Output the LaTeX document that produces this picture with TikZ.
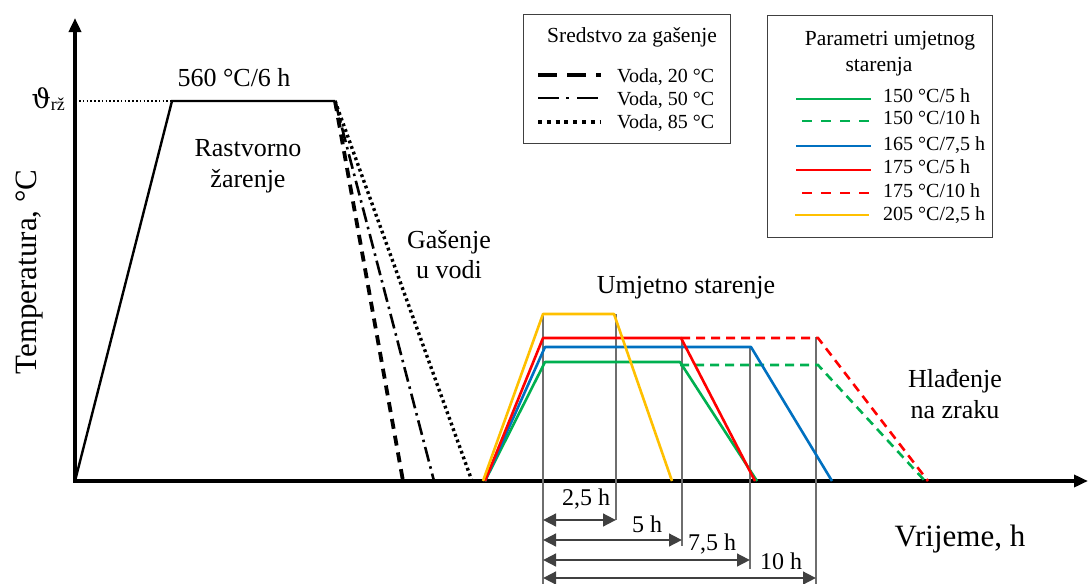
\documentclass[tikz,border=0pt]{standalone}
\usepackage{fontspec}
\setmainfont{Liberation Serif}
\newfontfamily\thetafont{DejaVu Serif}
\usetikzlibrary{arrows.meta}
\definecolor{cgreen}{HTML}{00B050}
\definecolor{cblue}{HTML}{0070C0}
\definecolor{cred}{HTML}{FF0000}
\definecolor{cyellow}{HTML}{FFC000}
\definecolor{dimgrey}{HTML}{404040}
\definecolor{vgrey}{HTML}{6E6E6E}
\tikzset{
  lbl/.style={font=\fontsize{26}{26}\selectfont, inner sep=0pt, anchor=base},
  axlbl/.style={font=\fontsize{31}{31}\selectfont, inner sep=0pt, anchor=base},
  leg/.style={font=\fontsize{20}{20}\selectfont, inner sep=0pt, anchor=base west},
  legtitle/.style={font=\fontsize{21.5}{21.5}\selectfont, inner sep=0pt, anchor=base},
  dimlbl/.style={font=\fontsize{24}{24}\selectfont, inner sep=0pt, anchor=base},
  axisline/.style={line width=3.5pt, -{Triangle[length=14pt,width=12pt]}},
  solcurve/.style={line width=2.4pt, line join=miter},
  qdash/.style={line width=3.8pt, dash pattern=on 10pt off 7pt},
  qdashdot/.style={line width=2.6pt, dash pattern=on 15pt off 5pt on 2.5pt off 5pt},
  qdot/.style={line width=3.4pt, dash pattern=on 2.8pt off 3.2pt},
  age/.style={line width=2.6pt, line join=round},
  agedash/.style={line width=2.6pt, dash pattern=on 9pt off 6pt},
  vguide/.style={line width=1.1pt, vgrey},
  dimarrow/.style={line width=2.8pt, dimgrey, {Triangle[length=13pt,width=12.5pt]}-{Triangle[length=13pt,width=12.5pt]}},
  legbox/.style={draw=black!75, line width=1.2pt},
}
\begin{document}
\begin{tikzpicture}[x=1pt,y=-1pt]
\useasboundingbox (0,0) rectangle (1088,584);

% axes
\coordinate (O) at (75,481);
\coordinate (Ytop) at (75,18);
\coordinate (Xend) at (1088,481);
\draw[axisline] (O) -- (Ytop);
\draw[axisline] ([xshift=-1.75pt]O) -- (Xend);

\node[axlbl, rotate=90] (ylab) at (36,272) {Temperatura, °C};
\node[axlbl] (xlab) at (960,546) {Vrijeme, h};

% theta label and dotted reference
\node[inner sep=0pt, anchor=base east] (theta) at (65,108) {{\thetafont\fontsize{27}{27}\selectfont ϑ}\raisebox{-0.28em}{\fontsize{18}{18}\selectfont rž}};
\coordinate (Dstart) at (79,101);
\coordinate (S1) at (172,101);
\coordinate (S2) at (335,101);
\draw[line width=1.3pt, dash pattern=on 1.6pt off 2.2pt] (Dstart) -- (S1);

% solution annealing curve
\draw[solcurve] (O) -- (S1) -- (S2);
\node[lbl] (t560) at (234,86) {560 °C/6 h};
\node[lbl] (rast1) at (248,156) {Rastvorno};
\node[lbl] (rast2) at (248,187) {žarenje};

% quenching
\coordinate (Q20) at (403,481);
\coordinate (Q50) at (434,481);
\coordinate (Q85) at (472,481);
\draw[qdash] (S2) -- (Q20);
\draw[qdashdot] (S2) -- (Q50);
\draw[qdot] (S2) -- (Q85);
\node[lbl] (gas1) at (449,248) {Gašenje};
\node[lbl] (gas2) at (449,278) {u vodi};

% ageing curves
\coordinate (A0) at (485,481);
% yellow 205/2.5
\coordinate (Y1) at (543,314);
\coordinate (Y2) at (614,314);
\coordinate (Y3) at (672,481);
% red 175/5
\coordinate (R1) at (543,338);
\coordinate (R2) at (681,338);
\coordinate (R3) at (755,481);
\coordinate (R4) at (818,338);
\coordinate (R5) at (928,481);
% blue 165/7.5
\coordinate (B1) at (545,347);
\coordinate (B2) at (751,347);
\coordinate (B3) at (832,481);
% green 150/5
\coordinate (G1) at (545,362);
\coordinate (G2) at (680,362);
\coordinate (G3) at (757,481);
\coordinate (G4) at (680,365);
\coordinate (G5) at (818,365);
\coordinate (G6) at (925,481);

% guides
\coordinate (V1t) at (543,314); \coordinate (V1b) at (543,584);
\coordinate (V2t) at (616,314); \coordinate (V2b) at (616,520);
\coordinate (V3t) at (682,338); \coordinate (V3b) at (682,546);
\coordinate (V4t) at (750,347); \coordinate (V4b) at (750,569);
\coordinate (V5t) at (816,337); \coordinate (V5b) at (816,584);
\draw[vguide] (V1t) -- (V1b);
\draw[vguide] (V2t) -- (V2b);
\draw[vguide] (V3t) -- (V3b);
\draw[vguide] (V4t) -- (V4b);
\draw[vguide] (V5t) -- (V5b);

\draw[agedash, cgreen] (G4) -- (G5) -- (G6);
\draw[agedash, cred] (R2) -- (R4) -- (R5);
\draw[age, cgreen] (A0) -- (G1) -- (G2) -- (G3);
\draw[age, cblue] (A0) -- (B1) -- (B2) -- (B3);
\draw[age, cred] (A0) -- (R1) -- (R2) -- (R3);
\draw[age, cyellow] ([xshift=-2pt]A0) -- (Y1) -- (Y2) -- (Y3);

\node[lbl] (umj) at (686,293) {Umjetno starenje};
\node[lbl] (hla1) at (955,387) {Hlađenje};
\node[lbl] (hla2) at (955,418) {na zraku};

% dimension arrows
\coordinate (D1a) at (543,520); \coordinate (D1b) at (616,520);
\coordinate (D2a) at (543,540); \coordinate (D2b) at (682,540);
\coordinate (D3a) at (543,560); \coordinate (D3b) at (750,560);
\coordinate (D4a) at (543,578); \coordinate (D4b) at (816,578);
\draw[dimarrow] (D1a) -- (D1b);
\draw[dimarrow] (D2a) -- (D2b);
\draw[dimarrow] (D3a) -- (D3b);
\draw[dimarrow] (D4a) -- (D4b);
\node[dimlbl] (d1) at (586,505) {2,5 h};
\node[dimlbl] (d2) at (647,532) {5 h};
\node[dimlbl] (d3) at (712,550) {7,5 h};
\node[dimlbl] (d4) at (781,569) {10 h};

% legend 1
\node[legbox, minimum width=207pt, minimum height=129pt, anchor=north west, inner sep=0pt] (leg1) at (523,14) {};
\node[legtitle] (leg1t) at (632,42) {Sredstvo za gašenje};
\coordinate (L1a) at (538,75); \coordinate (L1b) at (601,75);
\coordinate (L2a) at (538,98); \coordinate (L2b) at (601,98);
\coordinate (L3a) at (538,122); \coordinate (L3b) at (601,122);
\draw[line width=4pt, dash pattern=on 19pt off 10pt] (L1a) -- (L1b);
\draw[line width=2.6pt, dash pattern=on 21pt off 7pt on 3pt off 8pt] (L2a) -- (L2b);
\draw[line width=4pt, dash pattern=on 4pt off 4.8pt] (L3a) -- (L3b);
\node[leg] (l1) at (617,82) {Voda, 20 °C};
\node[leg] (l2) at (617,105) {Voda, 50 °C};
\node[leg] (l3) at (617,128) {Voda, 85 °C};

% legend 2
\node[legbox, minimum width=225pt, minimum height=222pt, anchor=north west, inner sep=0pt] (leg2) at (767,15) {};
\node[legtitle] (leg2t1) at (890,45) {Parametri umjetnog};
\node[legtitle] (leg2t2) at (879,71) {starenja};
\coordinate (P1a) at (796,99);  \coordinate (P1b) at (871,99);
\coordinate (P2a) at (802,121); \coordinate (P2b) at (871,121);
\coordinate (P3a) at (796,146); \coordinate (P3b) at (871,146);
\coordinate (P4a) at (796,170); \coordinate (P4b) at (871,170);
\coordinate (P5a) at (802,193); \coordinate (P5b) at (871,193);
\coordinate (P6a) at (795,215); \coordinate (P6b) at (869,215);
\draw[line width=2.6pt, cgreen] (P1a) -- (P1b);
\draw[line width=2.6pt, cgreen, dash pattern=on 10pt off 9pt] (P2a) -- (P2b);
\draw[line width=2.6pt, cblue] (P3a) -- (P3b);
\draw[line width=2.6pt, cred] (P4a) -- (P4b);
\draw[line width=2.6pt, cred, dash pattern=on 10pt off 9pt] (P5a) -- (P5b);
\draw[line width=2.6pt, cyellow] (P6a) -- (P6b);
\node[leg] (p1) at (883,102) {150 °C/5 h};
\node[leg] (p2) at (883,124) {150 °C/10 h};
\node[leg] (p3) at (883,150) {165 °C/7,5 h};
\node[leg] (p4) at (883,173) {175 °C/5 h};
\node[leg] (p5) at (883,197) {175 °C/10 h};
\node[leg] (p6) at (883,220) {205 °C/2,5 h};
\end{tikzpicture}
\end{document}
